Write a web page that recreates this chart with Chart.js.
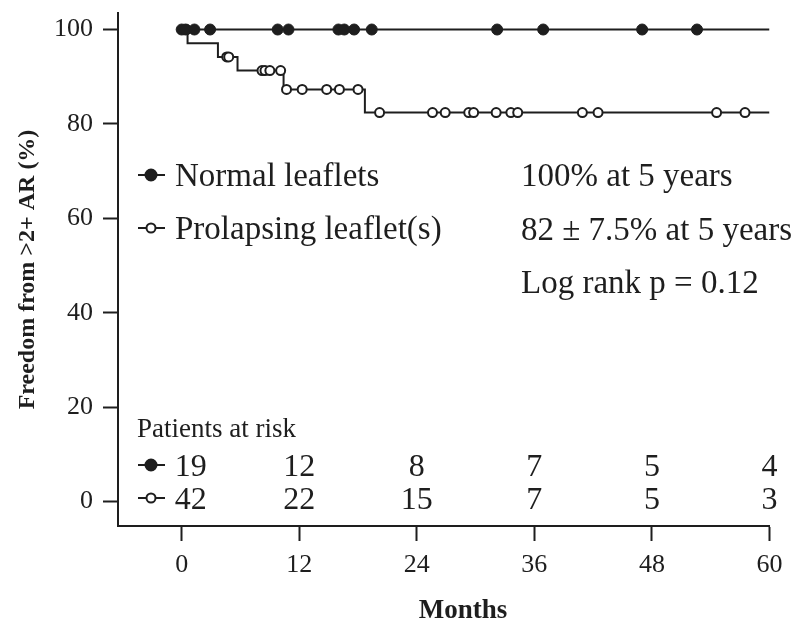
<!DOCTYPE html>
<html>
<head>
<meta charset="utf-8">
<script src="https://cdn.jsdelivr.net/npm/chart.js@4.4.1/dist/chart.umd.min.js"></script>
<style>
  html, body { margin: 0; padding: 0; background: #fff; }
</style>
</head>
<body>
<canvas id="c" width="799" height="624"></canvas>
<script>
// axis ticks
const months = [0, 12, 24, 36, 48, 60];
const yTicks = [0, 20, 40, 60, 80, 100];

// numbers at risk under each month tick
const atRiskNormal = [19, 12, 8, 7, 5, 4];
const atRiskProlapse = [42, 22, 15, 7, 5, 3];

// Kaplan-Meier steps (time in months, freedom in %)
const normalStepTimes = [0];
const normalStepSurv = [100];
const prolapseStepTimes = [0, 0.6, 3.7, 5.7, 10.4, 18.7];
const prolapseStepSurv = [100, 97.1, 94.2, 91.3, 87.3, 82.4];

// censored patients (months)
const normalCensor = [0, 0.4, 1.3, 2.9, 9.8, 10.9, 16.0, 16.6, 17.6, 19.4, 32.2, 36.9, 47.0, 52.6];
const prolapseCensor = [0.5, 4.6, 4.8, 8.2, 8.5, 9.0, 10.1, 10.7, 12.3, 14.8, 16.1, 18.0,
  20.2, 25.6, 26.9, 29.3, 29.8, 32.1, 33.6, 34.3, 40.9, 42.5, 54.6, 57.5];

const endMonth = 60;
const ink = "#1e1e1e";
const serif = "'Liberation Serif', 'Times New Roman', serif";

function survAt(times, surv, t) {
  let s = surv[0];
  for (let i = 0; i < times.length; i++) {
    if (times[i] <= t) s = surv[i];
  }
  return s;
}

function stepLine(times, surv) {
  const pts = times.map((t, i) => ({ x: t, y: surv[i] }));
  pts.push({ x: endMonth, y: surv[surv.length - 1] });
  return pts;
}

function censorPoints(times, surv, censor) {
  return censor.map((t) => ({ x: t, y: survAt(times, surv, t) }));
}

function drawMarker(ctx, x, y, filled) {
  ctx.save();
  ctx.strokeStyle = ink;
  ctx.lineWidth = 2;
  ctx.beginPath();
  ctx.moveTo(x - 13, y);
  ctx.lineTo(x + 14, y);
  ctx.stroke();
  ctx.beginPath();
  ctx.arc(x, y, filled ? 5.5 : 4.5, 0, Math.PI * 2);
  ctx.fillStyle = filled ? ink : "#fff";
  ctx.fill();
  ctx.stroke();
  ctx.restore();
}

const annotations = {
  id: "annotations",
  afterDraw(chart) {
    const { ctx } = chart;
    const xs = chart.scales.x;
    ctx.save();
    ctx.fillStyle = ink;
    ctx.textBaseline = "alphabetic";

    // legend
    ctx.font = "33px " + serif;
    ctx.textAlign = "left";
    drawMarker(ctx, 151, 175, true);
    ctx.fillText("Normal leaflets", 175, 186);
    drawMarker(ctx, 151, 228, false);
    ctx.fillText("Prolapsing leaflet(s)", 175, 239);

    // results
    ctx.fillText("100% at 5 years", 521, 186);
    ctx.fillText("82 \u00b1 7.5% at 5 years", 521, 240);
    ctx.fillText("Log rank p = 0.12", 521, 293);

    // numbers at risk
    ctx.font = "27px " + serif;
    ctx.fillText("Patients at risk", 137, 437);
    ctx.font = "32px " + serif;
    ctx.textAlign = "center";
    drawMarker(ctx, 151, 465, true);
    drawMarker(ctx, 151, 498, false);
    months.forEach((m, i) => {
      const x = xs.getPixelForValue(m) + (i === 0 ? 9 : 0);
      ctx.fillText(String(atRiskNormal[i]), x, 476);
      ctx.fillText(String(atRiskProlapse[i]), x, 509);
    });

    // x axis title
    ctx.font = "bold 27px " + serif;
    ctx.textBaseline = "middle";
    ctx.fillText("Months", 463, 611);
    ctx.restore();
  },
};

new Chart(document.getElementById("c"), {
  type: "scatter",
  data: {
    datasets: [
      {
        label: "Normal leaflets censored",
        data: censorPoints(normalStepTimes, normalStepSurv, normalCensor),
        pointRadius: 5.5,
        pointBackgroundColor: ink,
        pointBorderColor: ink,
        pointBorderWidth: 1,
      },
      {
        label: "Prolapsing leaflet(s) censored",
        data: censorPoints(prolapseStepTimes, prolapseStepSurv, prolapseCensor),
        pointRadius: 4.5,
        pointBackgroundColor: "#fff",
        pointBorderColor: ink,
        pointBorderWidth: 2,
      },
      {
        label: "Normal leaflets",
        data: stepLine(normalStepTimes, normalStepSurv),
        showLine: true,
        stepped: true,
        borderColor: ink,
        borderWidth: 2,
        pointRadius: 0,
      },
      {
        label: "Prolapsing leaflet(s)",
        data: stepLine(prolapseStepTimes, prolapseStepSurv),
        showLine: true,
        stepped: true,
        borderColor: ink,
        borderWidth: 2,
        pointRadius: 0,
      },
    ],
  },
  options: {
    responsive: false,
    animation: false,
    layout: { padding: { left: 0, top: 13, right: 29.5, bottom: 0 } },
    plugins: {
      legend: { display: false },
      tooltip: { enabled: false },
    },
    scales: {
      x: {
        type: "linear",
        min: -6.5,
        max: 60,
        afterBuildTicks: (scale) => {
          scale.ticks = months.map((v) => ({ value: v }));
        },
        afterFit: (scale) => {
          scale.height = 98;
          scale.paddingLeft = 0;
          scale.paddingRight = 0;
        },
        border: { display: true, color: ink, width: 2 },
        grid: {
          drawOnChartArea: false,
          drawTicks: true,
          tickLength: 15,
          tickWidth: 2,
          tickColor: ink,
        },
        ticks: {
          padding: 11,
          color: ink,
          maxRotation: 0,
          font: { family: serif, size: 26, lineHeight: 1 },
        },
        title: { display: false },
      },
      y: {
        type: "linear",
        min: -5.2,
        max: 103.5,
        afterBuildTicks: (scale) => {
          scale.ticks = yTicks.map((v) => ({ value: v }));
        },
        afterFit: (scale) => {
          scale.width = 118;
          scale.paddingTop = 0;
          scale.paddingBottom = 0;
        },
        border: { display: true, color: ink, width: 2 },
        grid: {
          drawOnChartArea: false,
          drawTicks: true,
          tickLength: 15,
          tickWidth: 2,
          tickColor: ink,
        },
        ticks: {
          padding: 10,
          color: ink,
          font: { family: serif, size: 26, lineHeight: 1 },
        },
        title: {
          display: true,
          text: "Freedom from >2+ AR (%)",
          color: ink,
          padding: { top: 16, bottom: 0 },
          font: { family: serif, size: 24, weight: "bold", lineHeight: 1 },
        },
      },
    },
  },
  plugins: [annotations],
});
</script>
</body>
</html>
